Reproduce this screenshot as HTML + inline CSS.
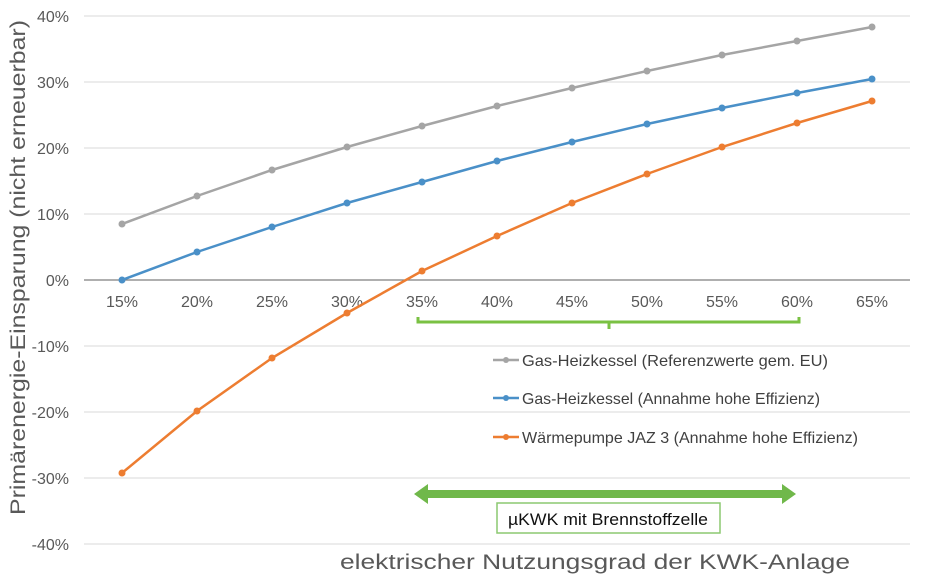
<!DOCTYPE html>
<html><head><meta charset="utf-8"><style>body{margin:0;background:#fff}svg{display:block}text{font-family:"Liberation Sans",sans-serif}</style></head><body>
<svg width="938" height="576" viewBox="0 0 938 576">
<g stroke="#d9d9d9" stroke-width="1">
<line x1="84" x2="910" y1="16" y2="16"/><line x1="84" x2="910" y1="82" y2="82"/><line x1="84" x2="910" y1="148" y2="148"/><line x1="84" x2="910" y1="214" y2="214"/><line x1="84" x2="910" y1="346" y2="346"/><line x1="84" x2="910" y1="412" y2="412"/><line x1="84" x2="910" y1="478" y2="478"/><line x1="84" x2="910" y1="544" y2="544"/>
</g>
<line x1="84" x2="910" y1="280" y2="280" stroke="#7f7f7f" stroke-width="1.2"/>
<g fill="#595959" font-size="16" text-anchor="end">
<text x="69" y="22">40%</text><text x="69" y="88">30%</text><text x="69" y="154">20%</text><text x="69" y="220">10%</text><text x="69" y="286">0%</text><text x="69" y="352">-10%</text><text x="69" y="418">-20%</text><text x="69" y="484">-30%</text><text x="69" y="550">-40%</text>
</g>
<g fill="#595959" font-size="16" text-anchor="middle">
<text x="122" y="307">15%</text><text x="197" y="307">20%</text><text x="272" y="307">25%</text><text x="347" y="307">30%</text><text x="422" y="307">35%</text><text x="497" y="307">40%</text><text x="572" y="307">45%</text><text x="647" y="307">50%</text><text x="722" y="307">55%</text><text x="797" y="307">60%</text><text x="872" y="307">65%</text>
</g>
<text x="-515" y="25" transform="rotate(-90)" font-size="21" fill="#595959" textLength="495" lengthAdjust="spacingAndGlyphs">Primärenergie-Einsparung (nicht erneuerbar)</text>
<text x="340" y="569" font-size="21" fill="#595959" textLength="510" lengthAdjust="spacingAndGlyphs">elektrischer Nutzungsgrad der KWK-Anlage</text>
<g fill="none" stroke-width="2.5">
<polyline stroke="#a5a5a5" points="122,224 197,196 272,170 347,147 422,126 497,106 572,88 647,71 722,55 797,41 872,27"/>
<polyline stroke="#4a90c8" points="122,280 197,252 272,227 347,203 422,182 497,161 572,142 647,124 722,108 797,93 872,79"/>
<polyline stroke="#ed7d31" points="122,473 197,411 272,358 347,313 422,271 497,236 572,203 647,174 722,147 797,123 872,101"/>
</g>
<g fill="#a5a5a5"><circle cx="122" cy="224" r="3.5"/><circle cx="197" cy="196" r="3.5"/><circle cx="272" cy="170" r="3.5"/><circle cx="347" cy="147" r="3.5"/><circle cx="422" cy="126" r="3.5"/><circle cx="497" cy="106" r="3.5"/><circle cx="572" cy="88" r="3.5"/><circle cx="647" cy="71" r="3.5"/><circle cx="722" cy="55" r="3.5"/><circle cx="797" cy="41" r="3.5"/><circle cx="872" cy="27" r="3.5"/></g>
<g fill="#4a90c8"><circle cx="122" cy="280" r="3.5"/><circle cx="197" cy="252" r="3.5"/><circle cx="272" cy="227" r="3.5"/><circle cx="347" cy="203" r="3.5"/><circle cx="422" cy="182" r="3.5"/><circle cx="497" cy="161" r="3.5"/><circle cx="572" cy="142" r="3.5"/><circle cx="647" cy="124" r="3.5"/><circle cx="722" cy="108" r="3.5"/><circle cx="797" cy="93" r="3.5"/><circle cx="872" cy="79" r="3.5"/></g>
<g fill="#ed7d31"><circle cx="122" cy="473" r="3.5"/><circle cx="197" cy="411" r="3.5"/><circle cx="272" cy="358" r="3.5"/><circle cx="347" cy="313" r="3.5"/><circle cx="422" cy="271" r="3.5"/><circle cx="497" cy="236" r="3.5"/><circle cx="572" cy="203" r="3.5"/><circle cx="647" cy="174" r="3.5"/><circle cx="722" cy="147" r="3.5"/><circle cx="797" cy="123" r="3.5"/><circle cx="872" cy="101" r="3.5"/></g>
<path d="M418,317 V322 H799 V317 M609,322 V329" fill="none" stroke="#7ac143" stroke-width="3"/>
<g font-size="16" fill="#404040">
<line x1="493" x2="519" y1="360" y2="360" stroke="#a5a5a5" stroke-width="2.5"/><circle cx="506" cy="360" r="3" fill="#a5a5a5"/><text x="522" y="366" textLength="306" lengthAdjust="spacingAndGlyphs">Gas-Heizkessel (Referenzwerte gem. EU)</text>
<line x1="493" x2="519" y1="398" y2="398" stroke="#4a90c8" stroke-width="2.5"/><circle cx="506" cy="398" r="3" fill="#4a90c8"/><text x="522" y="404" textLength="298" lengthAdjust="spacingAndGlyphs">Gas-Heizkessel (Annahme hohe Effizienz)</text>
<line x1="493" x2="519" y1="437" y2="437" stroke="#ed7d31" stroke-width="2.5"/><circle cx="506" cy="437" r="3" fill="#ed7d31"/><text x="522" y="443" textLength="336" lengthAdjust="spacingAndGlyphs">Wärmepumpe JAZ 3 (Annahme hohe Effizienz)</text>
</g>
<path d="M414,494 L428,484 V490 H782 V484 L796,494 L782,504 V498 H428 V504 Z" fill="#70b84a"/>
<rect x="497" y="503" width="223" height="30" fill="#fff" stroke="#8cc870" stroke-width="1.5"/>
<text x="608" y="525" text-anchor="middle" font-size="17" fill="#111" textLength="200" lengthAdjust="spacingAndGlyphs">µKWK mit Brennstoffzelle</text>
</svg>
</body></html>
